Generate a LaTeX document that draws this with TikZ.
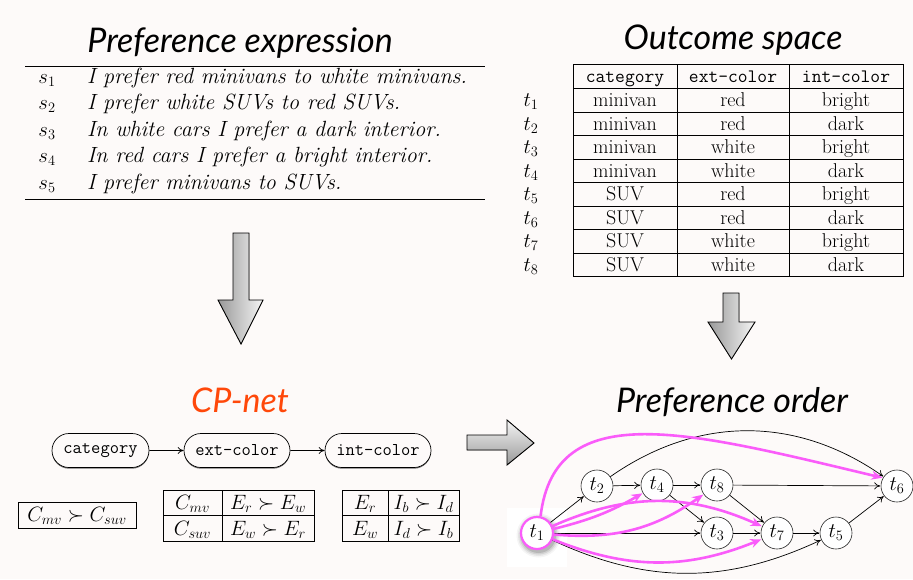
\documentclass[tikz,border=0pt]{standalone}
\usepackage{fontspec}
\newfontfamily\titlefont{Lato}
\usetikzlibrary{arrows.meta,shapes.misc,shadows}
\definecolor{bg}{RGB}{253,250,249}
\definecolor{pinkedge}{RGB}{250,92,250}
\definecolor{cpred}{RGB}{255,72,10}

\tikzset{
  heading/.style={font=\titlefont\itshape\fontsize{34}{34}\selectfont, anchor=base, inner sep=0},
  sentence/.style={font=\fontsize{22}{22}\selectfont\itshape, anchor=base west, inner sep=0},
  lbl/.style={font=\fontsize{21}{21}\selectfont, anchor=base, inner sep=0},
  cell/.style={font=\fontsize{20}{20}\selectfont, anchor=base, inner sep=0},
  ttcell/.style={font=\ttfamily\fontsize{19}{19}\selectfont, anchor=base, inner sep=0},
  grid/.style={line width=0.9pt},
  rulel/.style={line width=1pt},
  cpnode/.style={draw, rounded rectangle, minimum height=34pt, inner sep=0,
    line width=0.7pt, fill=bg, font=\ttfamily\fontsize{18}{18}\selectfont,
    drop shadow={shadow xshift=0pt, shadow yshift=-1.2pt, fill=black, opacity=0.55}},
  cparrow/.style={-{To[length=6pt,width=7pt]}, line width=0.7pt},
  blockv/.style={draw=black, line width=0.9pt, left color=gray!80, right color=gray!8},
  blockh/.style={draw=black, line width=0.9pt, top color=gray!8, bottom color=gray!80},
  gnode/.style={circle, draw=black!85, line width=0.6pt, fill=white, minimum size=32pt,
    inner sep=0, font=\fontsize{21}{21}\selectfont},
  bedge/.style={-{To[length=6pt,width=7pt]}, line width=0.7pt, shorten >=0.5pt},
  pedge/.style={-{Stealth[length=11pt,width=9pt]}, line width=2.6pt, pinkedge, shorten >=0.5pt},
}

\begin{document}
\begin{tikzpicture}[x=1pt,y=1pt]
\useasboundingbox (0,0) rectangle (913,-579);
\fill[bg] (0,0) rectangle (913,-579);

% ---------- preference statements ----------
\node[heading] (hexpr) at (240,-52) {Preference expression};
\draw[rulel] (25,-66) -- (485,-66);
\draw[rulel] (25,-199) -- (485,-199);
\node[lbl] (s1) at (47,-83) {$s_1$};
\node[lbl] (s2) at (47,-109.6) {$s_2$};
\node[lbl] (s3) at (47,-136.2) {$s_3$};
\node[lbl] (s4) at (47,-162.8) {$s_4$};
\node[lbl] (s5) at (47,-189.4) {$s_5$};
\node[sentence] (x1) at (87,-83) {I prefer red minivans to white minivans.};
\node[sentence] (x2) at (87,-109.6) {I prefer white SUVs to red SUVs.};
\node[sentence] (x3) at (87,-136.2) {In white cars I prefer a dark interior.};
\node[sentence] (x4) at (87,-162.8) {In red cars I prefer a bright interior.};
\node[sentence] (x5) at (87,-189.4) {I prefer minivans to SUVs.};

% ---------- outcome table ----------
\node[heading] (hout) at (733,-49) {Outcome space};
\draw[grid] (573,-64) rectangle (903,-276.5);
\draw[grid] (677,-64) -- (677,-276.5);
\draw[grid] (789,-64) -- (789,-276.5);
\foreach \k in {0,...,7} {
  \pgfmathsetmacro\yy{-88.5-23.5*\k}
  \draw[grid] (573,\yy) -- (903,\yy);
}
\node[ttcell] (hc) at (625,-82) {category};
\node[ttcell] (he) at (733,-82) {ext-color};
\node[ttcell] (hi) at (846,-82) {int-color};
\foreach \c/\e/\n [count=\k] in {minivan/red/bright, minivan/red/dark,
    minivan/white/bright, minivan/white/dark, SUV/red/bright, SUV/red/dark,
    SUV/white/bright, SUV/white/dark} {
  \pgfmathsetmacro\yb{-106.5-23.5*(\k-1)}
  \node[lbl] (t\k) at (531,\yb) {$t_{\k}$};
  \node[cell] (c\k) at (625,\yb) {\c};
  \node[cell] (e\k) at (733,\yb) {\e};
  \node[cell] (i\k) at (846,\yb) {\n};
}

% ---------- block arrows ----------
\filldraw[blockv] (233,-233) -- (249,-233) -- (249,-300) -- (263,-300) -- (241,-344)
  -- (218,-300) -- (233,-300) -- cycle;
\filldraw[blockv] (723,-293) -- (739,-293) -- (739,-322) -- (755,-322) -- (731.5,-359)
  -- (708,-322) -- (723,-322) -- cycle;
\filldraw[blockh] (467,-435) -- (507,-435) -- (507,-420) -- (534,-443) -- (507,-465)
  -- (507,-450) -- (467,-450) -- cycle;

% ---------- CP-net ----------
\node[heading, text=cpred] (hcp) at (240,-412) {CP-net};
\node[cpnode, minimum width=97pt] (cat) at (100.5,-450.5) {category};
\node[cpnode, minimum width=106pt] (ext) at (237,-450.5) {ext-color};
\node[cpnode, minimum width=106pt] (int) at (378,-450.5) {int-color};
\draw[cparrow] (cat) -- (ext);
\draw[cparrow] (ext) -- (int);

% conditional preference tables
\draw[grid] (18,-502) rectangle (136,-528);
\node[cell] (cp1) at (77,-521.5) {$C_{mv}\succ C_{suv}$};
\draw[grid] (163,-490) rectangle (314,-541);
\draw[grid] (222,-490) -- (222,-541);
\draw[grid] (163,-515.5) -- (314,-515.5);
\node[cell] (cp2a) at (192.5,-509.5) {$C_{mv}$};
\node[cell] (cp2b) at (268,-509.5) {$E_r\succ E_w$};
\node[cell] (cp2c) at (192.5,-535) {$C_{suv}$};
\node[cell] (cp2d) at (268,-535) {$E_w\succ E_r$};
\draw[grid] (342,-490) rectangle (459,-541);
\draw[grid] (388,-490) -- (388,-541);
\draw[grid] (342,-515.5) -- (459,-515.5);
\node[cell] (cp3a) at (365,-509.5) {$E_r$};
\node[cell] (cp3b) at (423.5,-509.5) {$I_b\succ I_d$};
\node[cell] (cp3c) at (365,-535) {$E_w$};
\node[cell] (cp3d) at (423.5,-535) {$I_d\succ I_b$};

% ---------- preference order ----------
\node[heading] (hord) at (732,-412) {Preference order};
\fill[white] (507,-508) rectangle (567,-567);
\foreach \r/\o in {22/0.04, 20.5/0.06, 19/0.09, 17.5/0.12}
  \fill[black, opacity=\o] (538.5,-535.5) circle (\r);
\node[gnode, draw=pinkedge, line width=2.2pt] (g1) at (537,-533) {$t_1$};
\node[gnode] (g2) at (597,-486) {$t_2$};
\node[gnode] (g4) at (657,-485) {$t_4$};
\node[gnode] (g8) at (717,-485) {$t_8$};
\node[gnode] (g6) at (897,-486) {$t_6$};
\node[gnode] (g3) at (717,-533) {$t_3$};
\node[gnode] (g7) at (777,-533) {$t_7$};
\node[gnode] (g5) at (836,-533) {$t_5$};

\draw[bedge] (g1) -- (g2);
\draw[bedge] (g2) -- (g4);
\draw[bedge] (g4) -- (g8);
\draw[bedge] (g8) -- (g6);
\draw[bedge] (g4) -- (g3);
\draw[bedge] (g8) -- (g7);
\draw[bedge] (g3) -- (g7);
\draw[bedge] (g7) -- (g5);
\draw[bedge] (g5) -- (g6);
\draw[bedge] (g1) -- (g3);
\draw[bedge] (g2) to[bend left=35] (g6);
\draw[bedge] (g1) to[bend right=25] (g5);

\draw[pedge] (g1.78) .. controls (555,-395) and (690,-432) .. (g6.150);
\draw[pedge] (g1) to[bend right=8] (g4);
\draw[pedge] (g1) to[bend right=20] (g8);
\draw[pedge] (g1) to[bend left=24] (g7);
\draw[pedge] (g1) to[bend right=22] (g7);
\end{tikzpicture}
\end{document}
